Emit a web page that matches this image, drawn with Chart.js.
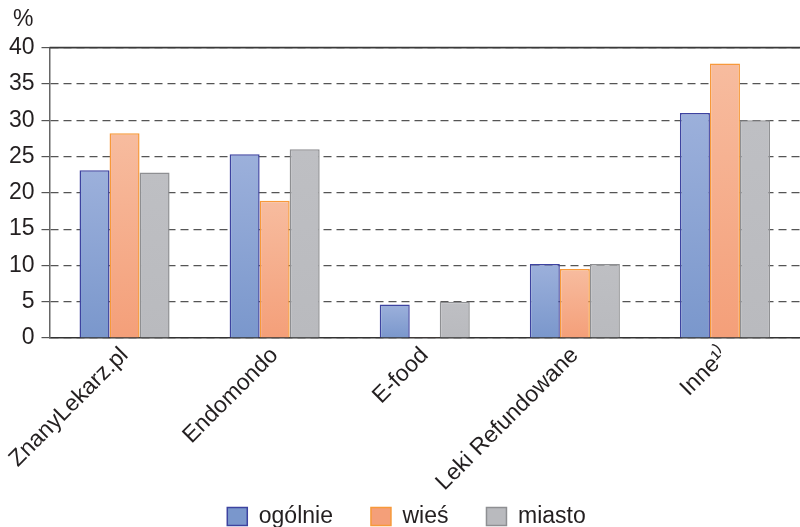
<!DOCTYPE html>
<html>
<head>
<meta charset="utf-8">
<script src="https://cdn.jsdelivr.net/npm/chart.js@4/dist/chart.umd.min.js"></script>
<style>
  html, body { margin: 0; padding: 0; background: #fff; }
  #wrap { width: 800px; height: 527px; position: relative; }
</style>
</head>
<body>
<div id="wrap"><canvas id="c"></canvas></div>
<script>
const categories = ['ZnanyLekarz.pl', 'Endomondo', 'E-food', 'Leki Refundowane', 'Inne\u00B9\u207E'];
const seriesNames = ['ogólnie', 'wieś', 'miasto'];
const ogolnie = [23.1, 25.3, 4.6, 10.2, 31.0];
const wies    = [28.2, 18.9, 0.1, 9.5, 37.8];
const miasto  = [22.8, 26.0, 5.0, 10.2, 30.0];
const yMin = 0, yMax = 40, yStep = 5;
const unitLabel = '%';

Chart.defaults.font.family = '"Liberation Sans", Arial, sans-serif';
Chart.defaults.font.size = 23;
Chart.defaults.color = '#231f20';

function barGradient(topColor, bottomColor, legendColor) {
  return function (ctx) {
    const chart = ctx.chart;
    if (ctx.type !== 'data' || !chart.chartArea || !chart.scales.y) return legendColor;
    const y = chart.scales.y;
    const yTop = y.getPixelForValue(ctx.parsed ? ctx.parsed.y : yMax);
    const yBot = y.getPixelForValue(yMin);
    if (!isFinite(yTop) || !isFinite(yBot) || yBot - yTop < 1) return legendColor;
    const g = chart.ctx.createLinearGradient(0, yTop, 0, yBot);
    g.addColorStop(0, topColor);
    g.addColorStop(1, bottomColor);
    return g;
  };
}

// solid frame line at the top of the y scale; let tick labels overflow their boxes unclipped
const framePlugin = {
  id: 'frame',
  afterLayout(chart) {
    const x = chart.scales.x, y = chart.scales.y;
    if (x) x.bottom = chart.height;
    if (y) y.left = 0;
  },
  beforeDatasetsDraw(chart) {
    const y = chart.scales.y, a = chart.chartArea, c = chart.ctx;
    const py = y.getPixelForValue(yMax);
    c.save();
    c.strokeStyle = '#3a3a3a';
    c.lineWidth = 1.6;
    c.beginPath();
    c.moveTo(a.left, py);
    c.lineTo(a.right, py);
    c.stroke();
    c.restore();
  }
};

new Chart(document.getElementById('c'), {
  type: 'bar',
  data: {
    labels: categories,
    datasets: [
      { label: seriesNames[0], data: ogolnie, backgroundColor: barGradient('#9cb0db', '#7a97cc', '#8ba3d4'), borderColor: '#3d43a0', borderWidth: 1.5 },
      { label: seriesNames[1], data: wies, backgroundColor: barGradient('#f7bc9f', '#f49f79', '#f5ad8c'), borderColor: '#f7993a', borderWidth: 1.5 },
      { label: seriesNames[2], data: miasto, backgroundColor: barGradient('#bebfc3', '#b9babe', '#bcbdc1'), borderColor: '#8e8f92', borderWidth: 1.5 }
    ]
  },
  plugins: [framePlugin],
  options: {
    responsive: true,
    maintainAspectRatio: false,
    animation: false,
    layout: { padding: { left: 13, right: 0, top: 0, bottom: -11 } },
    datasets: { bar: { categoryPercentage: 0.6, barPercentage: 1.0 } },
    plugins: {
      tooltip: { enabled: false },
      title: { display: true, text: unitLabel, align: 'start', font: { size: 23, weight: 'normal' }, color: '#231f20', padding: { top: 6, bottom: 14 } },
      legend: { position: 'bottom', align: 'center', labels: { boxWidth: 20, boxHeight: 18, padding: 38, font: { size: 23 }, color: '#231f20' } }
    },
    scales: {
      x: {
        grid: { display: false, drawTicks: false },
        border: { display: true, color: '#333', width: 1.5 },
        ticks: { autoSkip: false, maxRotation: 45, minRotation: 45, font: { size: 23 }, color: '#231f20', padding: 4 },
        afterFit: (s) => { s.height = 129; s.paddingLeft = 0; s.paddingRight = 0; }
      },
      y: {
        min: yMin, max: yMax,
        ticks: { stepSize: yStep, font: { size: 23 }, color: '#231f20', padding: 7 },
        grid: { color: '#555', lineWidth: 1.2, tickLength: 8, tickBorderDash: [], tickColor: '#555', tickWidth: 1.2 },
        border: { display: true, color: '#666', width: 1.5, dash: [8, 5] },
        afterFit: (s) => { s.width = 36.5; }
      }
    }
  }
});
</script>
</body>
</html>
